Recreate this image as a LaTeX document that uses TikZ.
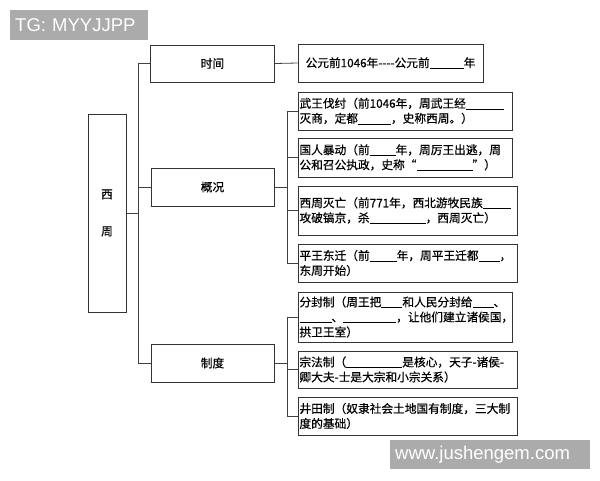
\documentclass[tikz,border=0pt]{standalone}
\usepackage{fontspec}
\usepackage{tikz}
\newfontfamily\cjk[FakeBold=0.6]{Noto Sans CJK SC}
\newfontfamily\wmfont{Liberation Sans}
\newcommand{\blank}[1]{\rule[-1.5pt]{#1}{0.6pt}}

\begin{document}
\begin{tikzpicture}[x=1pt,y=-1pt,
	box/.style={draw=black!80,line width=0.9pt,fill=white,text=black,
		font={\cjk\fontsize{11.7}{15}\selectfont}},
	leaf/.style={box,align=left,inner xsep=1.5pt,inner ysep=1pt},
	link/.style={draw=black!75,line width=0.8pt},
	wm/.style={fill=black!33,text=white,align=left,inner xsep=5pt,
		font={\wmfont\fontsize{18.5}{20}\selectfont}}]
\useasboundingbox (0,0) rectangle (600,480);

\node[box,minimum width=38pt,minimum height=198pt,align=center] (root) at (107,213) {西\\[22pt]周};
\node[box,minimum width=124pt,minimum height=37pt] (time) at (212.5,63.5) {时间};
\node[box,minimum width=123pt,minimum height=38pt] (gk) at (212.5,187) {概况};
\node[box,minimum width=123pt,minimum height=38pt] (sys) at (212.5,363) {制度};

\node[box,minimum width=185pt,minimum height=38pt] (tleaf) at (390.5,63) {公元前1046年----公元前\blank{34pt}年};
\node[leaf,text width=211pt,minimum height=38pt] (ww) at (405,111) {武王伐纣（前1046年，周武王经\blank{38pt}\\灭商，定都\blank{33pt}，史称西周。）};
\node[leaf,text width=211pt,minimum height=39pt] (gr) at (405,157.5) {国人暴动（前\blank{26pt}年，周厉王出逃，周\\公和召公执政，史称“\blank{56pt}”）};
\node[leaf,text width=216pt,minimum height=49pt] (xz) at (407.5,210.5) {西周灭亡（前771年，西北游牧民族\blank{28pt}\\攻破镐京，杀\blank{56pt}，西周灭亡）};
\node[leaf,text width=216pt,minimum height=38pt] (pw) at (407.5,263) {平王东迁（前\blank{27pt}年，周平王迁都\blank{21pt}，\\东周开始）};
\node[leaf,text width=211pt,minimum height=50pt] (ff) at (405,317) {分封制（周王把\blank{21pt}和人民分封给\blank{21pt}、\\\blank{32pt}、\blank{53pt}，让他们建立诸侯国，\\拱卫王室）};
\node[leaf,text width=216pt,minimum height=37pt] (zf) at (407.5,369.5) {宗法制（\blank{56pt}是核心，天子-诸侯-\\卿大夫-士是大宗和小宗关系）};
\node[leaf,text width=216pt,minimum height=38pt] (jt) at (407.5,416) {井田制（奴隶社会土地国有制度，三大制\\度的基础）};

\coordinate (trunk) at (138,0);
\coordinate (gtrunk) at (287,0);

\draw[link] (time.west) -| (trunk |- sys.west) -- (sys.west);
\draw[link] (root.east) -- (root.east -| trunk);
\draw[link] (gk.west) -- (gk.west -| trunk);
\draw[link] (time.east) -- (tleaf.west);
\draw[link] (gk.east) -- (gk.east -| gtrunk);
\draw[link] (ww.west) -| (gtrunk |- pw.west) -- (pw.west);
\foreach \n in {gr,xz}
  \draw[link] (\n.west) -- (\n.west -| gtrunk);
\draw[link] (sys.east) -- (sys.east -| gtrunk);
\draw[link] (ff.west) -| (gtrunk |- jt.west) -- (jt.west);
\draw[link] (zf.west) -- (zf.west -| gtrunk);

\node[wm,anchor=west,text width=128pt,minimum height=30pt] (tg) at (10,25) {TG: MYYJJPP};
\node[wm,anchor=west,text width=190pt,minimum height=29pt] (site) at (390,454.5) {www.jushengem.com};
\end{tikzpicture}
\end{document}
